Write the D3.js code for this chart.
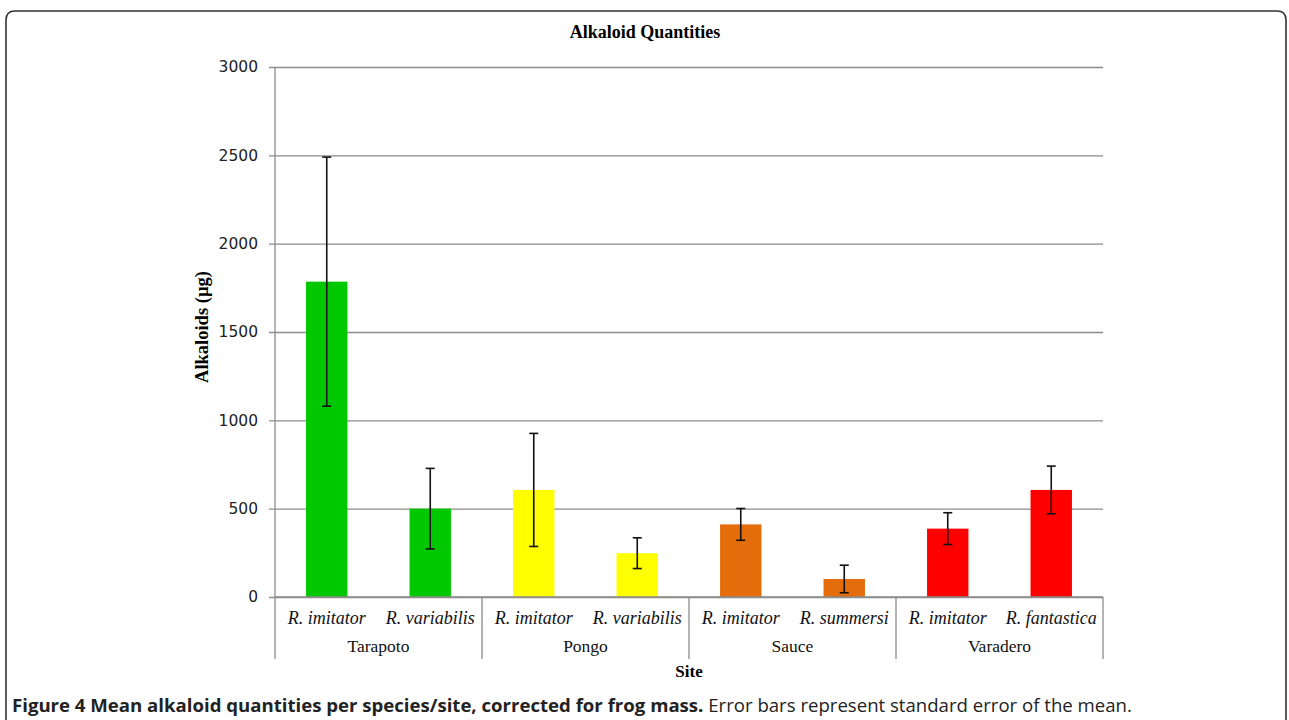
<!DOCTYPE html>
<html>
<head>
<meta charset="utf-8">
<script src="https://cdn.jsdelivr.net/npm/d3@7"></script>
<style>
  body { margin: 0; background: #fff; }
  svg { display: block; }
</style>
</head>
<body>
<svg width="1289" height="720"></svg>
<script>
// data
const sites = ["Tarapoto", "Pongo", "Sauce", "Varadero"];
const species = ["R. imitator", "R. variabilis", "R. imitator", "R. variabilis",
  "R. imitator", "R. summersi", "R. imitator", "R. fantastica"];
const speciesSite = ["Tarapoto", "Tarapoto", "Pongo", "Pongo", "Sauce", "Sauce", "Varadero", "Varadero"];
const means = [1785, 500, 606, 248, 411, 102, 387, 606];
const stdErr = [705, 228, 320, 87, 90, 78, 90, 135];
const siteColors = ["#00c800", "#ffff00", "#e46c0a", "#ff0000"];
const yTicks = [0, 500, 1000, 1500, 2000, 2500, 3000];

const svg = d3.select("svg");
const width = +svg.attr("width");

const margin = { top: 67, left: 275, right: 186, bottom: 123 };
const innerWidth = width - margin.left - margin.right;
const innerHeight = 720 - margin.top - margin.bottom;

const serif = "'Liberation Serif', 'Times New Roman', serif";

// panel frame with rounded top corners
const r = 9;
svg.append("path")
  .attr("d", `M6,722 L6,${11 + r} Q6,11 ${6 + r},11 L${1286 - r},11 Q1286,11 1286,${11 + r} L1286,722`)
  .attr("fill", "none")
  .attr("stroke", "#333")
  .attr("stroke-width", 1.6);

const data = means.map((m, i) => ({
  idx: i,
  species: species[i],
  site: speciesSite[i],
  mean: m,
  se: stdErr[i]
}));

const xScale = d3.scaleBand()
  .domain(d3.range(data.length))
  .range([0, innerWidth])
  .paddingInner(0.6)
  .paddingOuter(0.3);

const yScale = d3.scaleLinear()
  .domain([0, 3000])
  .range([innerHeight, 0]);

const color = d3.scaleOrdinal().domain(sites).range(siteColors);

const g = svg.append("g")
  .attr("transform", `translate(${margin.left},${margin.top})`);

// gridlines + y ticks
const yAxis = d3.axisLeft(yScale)
  .tickValues(yTicks)
  .tickSize(-innerWidth)
  .tickPadding(17)
  .tickFormat(d3.format("d"));

const yAxisG = g.append("g").call(yAxis);
yAxisG.select(".domain").remove();
yAxisG.selectAll(".tick line")
  .attr("x1", -6)
  .attr("stroke", "#8c8c8c")
  .attr("stroke-width", 1.3);
yAxisG.selectAll(".tick text")
  .attr("fill", "#222")
  .style("font-family", "'DejaVu Sans', Verdana, sans-serif")
  .style("font-size", "15.5px");

// vertical axis line
g.append("line")
  .attr("x1", 0).attr("x2", 0)
  .attr("y1", 0).attr("y2", innerHeight + 62)
  .attr("stroke", "#8c8c8c")
  .attr("stroke-width", 1.3);

// bars
g.selectAll("rect.bar")
  .data(data)
  .enter()
  .append("rect")
  .attr("class", "bar")
  .attr("x", (d) => xScale(d.idx))
  .attr("width", xScale.bandwidth())
  .attr("y", (d) => yScale(d.mean))
  .attr("height", (d) => innerHeight - yScale(d.mean))
  .attr("fill", (d) => color(d.site));

// error bars
const capW = 4.5;
const cx = (d) => xScale(d.idx) + xScale.bandwidth() / 2;
const err = g.selectAll("g.err")
  .data(data)
  .enter()
  .append("g")
  .attr("class", "err")
  .attr("stroke", "#111")
  .attr("stroke-width", 1.6);

err.append("line")
  .attr("x1", cx).attr("x2", cx)
  .attr("y1", (d) => yScale(d.mean + d.se))
  .attr("y2", (d) => yScale(d.mean - d.se));
err.append("line")
  .attr("x1", (d) => cx(d) - capW)
  .attr("x2", (d) => cx(d) + capW)
  .attr("y1", (d) => yScale(d.mean + d.se))
  .attr("y2", (d) => yScale(d.mean + d.se));
err.append("line")
  .attr("x1", (d) => cx(d) - capW)
  .attr("x2", (d) => cx(d) + capW)
  .attr("y1", (d) => yScale(d.mean - d.se))
  .attr("y2", (d) => yScale(d.mean - d.se));

// x axis baseline
g.append("line")
  .attr("x1", 0).attr("x2", innerWidth)
  .attr("y1", innerHeight).attr("y2", innerHeight)
  .attr("stroke", "#8c8c8c")
  .attr("stroke-width", 1.3);

// site group separators
const step = xScale.step();
const siteBounds = sites.map((s, i) => (i + 1) * 2 * step);
g.selectAll("line.sep")
  .data(siteBounds)
  .enter()
  .append("line")
  .attr("class", "sep")
  .attr("x1", (d) => d).attr("x2", (d) => d)
  .attr("y1", innerHeight).attr("y2", innerHeight + 62)
  .attr("stroke", "#8c8c8c")
  .attr("stroke-width", 1.3);

// species labels
g.selectAll("text.species")
  .data(data)
  .enter()
  .append("text")
  .attr("class", "species")
  .attr("x", cx)
  .attr("y", innerHeight + 27)
  .attr("text-anchor", "middle")
  .style("font-family", serif)
  .style("font-style", "italic")
  .style("font-size", "18px")
  .attr("fill", "#111")
  .text((d) => d.species);

// site labels
g.selectAll("text.site")
  .data(sites)
  .enter()
  .append("text")
  .attr("class", "site")
  .attr("x", (d, i) => (i * 2 + 1) * step)
  .attr("y", innerHeight + 55)
  .attr("text-anchor", "middle")
  .style("font-family", serif)
  .style("font-size", "17.5px")
  .attr("fill", "#111")
  .text((d) => d);

// axis titles
g.append("text")
  .attr("x", innerWidth / 2)
  .attr("y", innerHeight + 80)
  .attr("text-anchor", "middle")
  .style("font-family", serif)
  .style("font-weight", "bold")
  .style("font-size", "17px")
  .text("Site");

g.append("text")
  .attr("transform", `translate(-67,${innerHeight / 2 - 5}) rotate(-90)`)
  .attr("text-anchor", "middle")
  .style("font-family", serif)
  .style("font-weight", "bold")
  .style("font-size", "18.5px")
  .text("Alkaloids (µg)");

// chart title
svg.append("text")
  .attr("x", 645)
  .attr("y", 38)
  .attr("text-anchor", "middle")
  .style("font-family", serif)
  .style("font-weight", "bold")
  .style("font-size", "18px")
  .text("Alkaloid Quantities");

// figure caption
const cap = svg.append("text")
  .attr("x", 12)
  .attr("y", 712)
  .style("font-family", "'Open Sans', sans-serif")
  .style("font-size", "18.6px")
  .attr("fill", "#222");
cap.append("tspan")
  .style("font-weight", "bold")
  .text("Figure 4 Mean alkaloid quantities per species/site, corrected for frog mass.");
cap.append("tspan")
  .text(" Error bars represent standard error of the mean.");
</script>
</body>
</html>
